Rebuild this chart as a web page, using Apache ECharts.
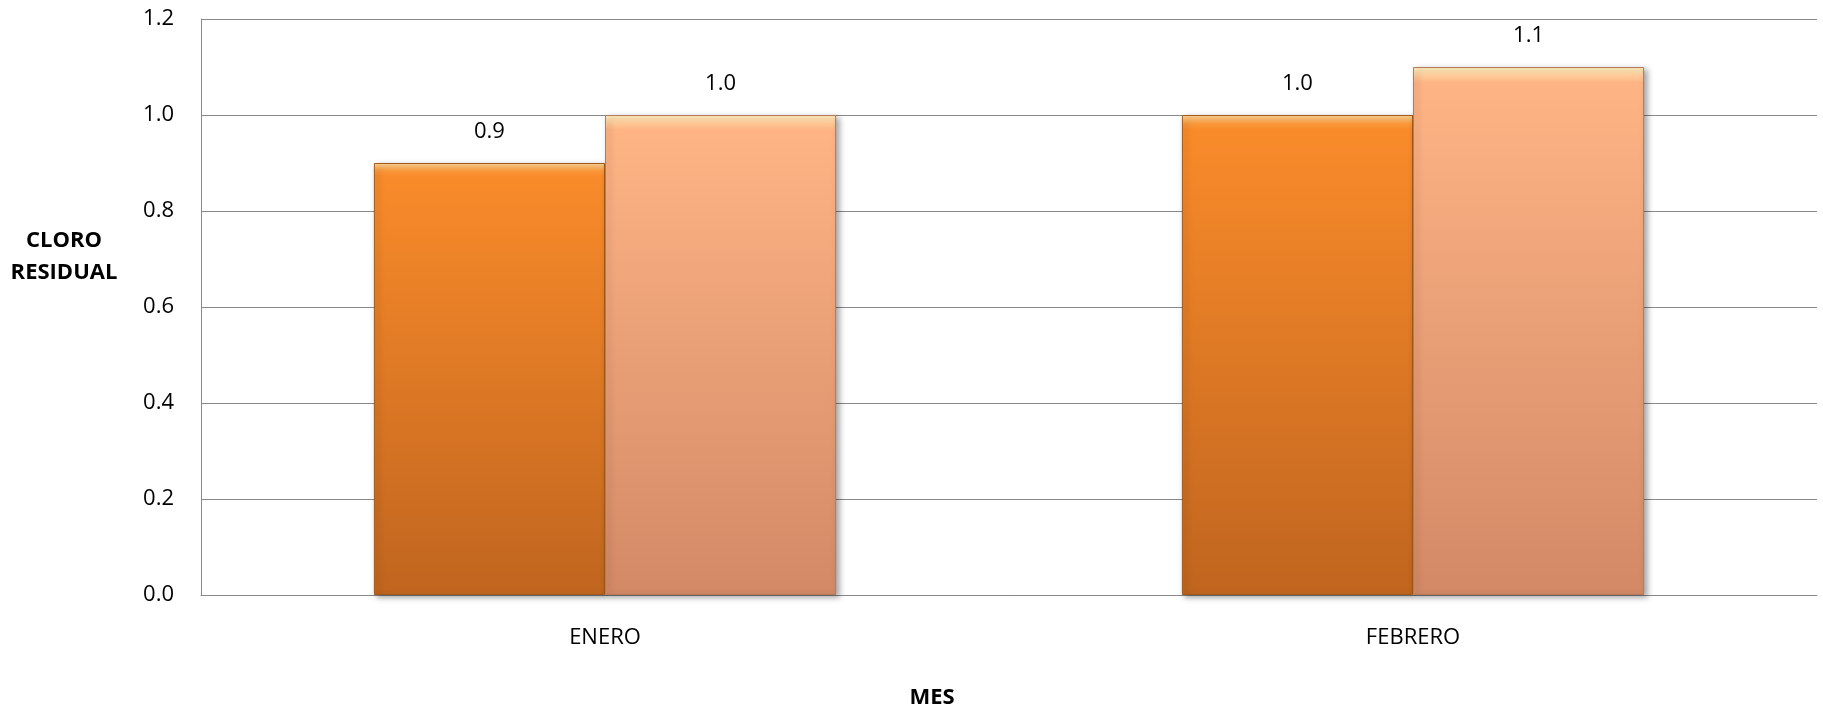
<!DOCTYPE html>
<html>
<head>
<meta charset="utf-8">
<script src="https://cdn.jsdelivr.net/npm/echarts@6/dist/echarts.min.js"></script>
<style>
html,body{margin:0;padding:0;background:#fff;}
#c{width:1823px;height:709px;}
</style>
</head>
<body>
<div id="c"></div>
<script>
const categories = ['ENERO', 'FEBRERO'];
const seriesA = [0.9, 1.0];
const seriesB = [1.0, 1.1];
const yTicks = { min: 0, max: 1.2, interval: 0.2 };
const yTitle = ['CLORO', 'RESIDUAL'];
const xTitle = 'MES';

const FONT = '"Open Sans", "Noto Sans", sans-serif';

function grad(stops) {
  return new echarts.graphic.LinearGradient(0, 0, 0, 1, stops.map(s => ({ offset: s[0], color: s[1] })));
}

const chart = echarts.init(document.getElementById('c'), null, { renderer: 'canvas' });
chart.setOption({
  animation: false,
  backgroundColor: '#ffffff',
  grid: { left: 201, right: 6, top: 19, bottom: 114, containLabel: false },
  xAxis: {
    type: 'category',
    data: categories,
    axisLine: { show: true, lineStyle: { color: '#898989', width: 1 } },
    axisTick: { show: false },
    axisLabel: { color: '#000', fontFamily: FONT, fontSize: 22, margin: 32 },
    splitLine: { show: false }
  },
  yAxis: {
    type: 'value',
    min: yTicks.min, max: yTicks.max, interval: yTicks.interval,
    axisLine: { show: true, lineStyle: { color: '#898989', width: 1 } },
    axisTick: { show: false },
    axisLabel: { color: '#000', fontFamily: FONT, fontSize: 22, margin: 27,
      formatter: v => v.toFixed(1) },
    splitLine: { show: true, lineStyle: { color: '#898989', width: 1 } }
  },
  series: [
    {
      type: 'bar',
      data: seriesA,
      barGap: '0%',
      barCategoryGap: '42.8%',
      itemStyle: {
        color: grad([[0, '#FFD89A'], [0.018, '#FA9A3C'], [0.03, '#F98B2A'], [1, '#C0651F']]),
        borderColor: '#A35A1C', borderWidth: 1,
        shadowColor: 'rgba(0,0,0,0.35)', shadowBlur: 6, shadowOffsetX: 3, shadowOffsetY: 2
      },
      label: { show: true, position: 'top', distance: 20, color: '#000', fontFamily: FONT, fontSize: 22,
        formatter: p => p.value.toFixed(1) }
    },
    {
      type: 'bar',
      data: seriesB,
      itemStyle: {
        color: grad([[0, '#FFF0C0'], [0.018, '#FFC896'], [0.03, '#FEB484'], [1, '#D38966']]),
        borderColor: '#B57A5C', borderWidth: 1,
        shadowColor: 'rgba(0,0,0,0.35)', shadowBlur: 6, shadowOffsetX: 3, shadowOffsetY: 2
      },
      label: { show: true, position: 'top', distance: 20, color: '#000', fontFamily: FONT, fontSize: 22,
        formatter: p => p.value.toFixed(1) }
    }
  ],
  graphic: [
    { type: 'text', x: 64, y: 257, z: 10,
      style: { text: yTitle.join('\n'), align: 'center', verticalAlign: 'middle', lineHeight: 32,
        font: 'bold 22px ' + FONT, fill: '#000' } },
    { type: 'text', x: 932, y: 698, z: 10,
      style: { text: xTitle, align: 'center', verticalAlign: 'middle',
        font: 'bold 22px ' + FONT, fill: '#000' } }
  ]
});
</script>
</body>
</html>
